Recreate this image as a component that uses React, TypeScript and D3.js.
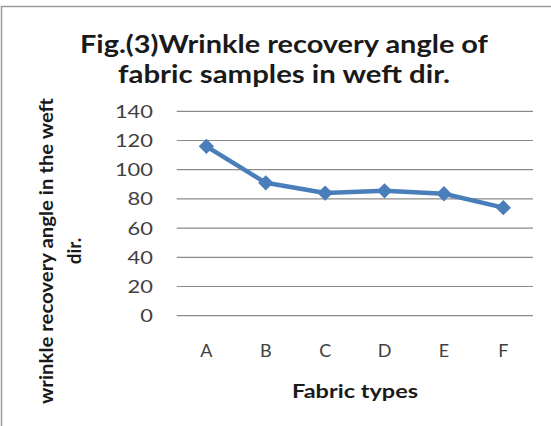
import React from "react";
import * as d3 from "d3";

const categories = ["A", "B", "C", "D", "E", "F"];
const values = [116, 91, 84, 85.5, 83.5, 74];
const yTicks = [0, 20, 40, 60, 80, 100, 120, 140];
const titleLines = ["Fig.(3)Wrinkle recovery angle of", "fabric samples  in weft dir."];
const yTitleLines = ["wrinkle recovery angle in the weft", "dir."];
const xTitle = "Fabric types";

const W = 551;
const H = 426;
const FONT = "Lato, 'Open Sans', sans-serif";

export default function App() {
  const x = d3.scaleBand<string>().domain(categories).range([176.7, 533]);
  const y = d3.scaleLinear().domain([0, 140]).range([315.7, 111.3]);
  const cx = (i: number) => (x(categories[i]) as number) + x.bandwidth() / 2;
  const line = d3
    .line<number>()
    .x((_, i) => cx(i))
    .y((d) => y(d));
  const diamond = d3.symbol().type(d3.symbolDiamond2).size(150)();
  const titleLens = [408, 332];
  const yTitleLens = [306, 0];

  return (
    <svg
      width={W}
      height={H}
      style={{ position: "absolute", left: 0, top: 0, background: "#fff" }}
    >
      <rect x={1.5} y={6.5} width={W + 10} height={H + 10} fill="#fff" stroke="#9a9a9a" strokeWidth={1.5} />
      {titleLines.map((t, i) => (
        <text
          key={i}
          x={284}
          y={53 + i * 30}
          textAnchor="middle"
          fontFamily={FONT}
          fontWeight="bold"
          fontSize={25}
          fill="#1a1a1a"
          textLength={titleLens[i]}
          lengthAdjust="spacingAndGlyphs"
        >
          {t}
        </text>
      ))}
      {yTicks.map((t) => (
        <g key={t}>
          <line x1={x.range()[0]} x2={x.range()[1]} y1={y(t)} y2={y(t)} stroke="#8c8c8c" strokeWidth={1.2} />
          <text
            x={153}
            y={y(t)}
            dy="0.36em"
            textAnchor="end"
            fontFamily={FONT}
            fontSize={18}
            fill="#404040"
            textLength={String(t).length * 12.7}
            lengthAdjust="spacingAndGlyphs"
          >
            {t}
          </text>
        </g>
      ))}
      {categories.map((c, i) => (
        <text
          key={c}
          x={cx(i)}
          y={357}
          textAnchor="middle"
          fontFamily={FONT}
          fontSize={18}
          fill="#404040"
        >
          {c}
        </text>
      ))}
      <text
        x={355}
        y={398}
        textAnchor="middle"
        fontFamily={FONT}
        fontWeight="bold"
        fontSize={19}
        fill="#1a1a1a"
        textLength={126}
        lengthAdjust="spacingAndGlyphs"
      >
        {xTitle}
      </text>
      {yTitleLines.map((t, i) => (
        <text
          key={i}
          transform={`translate(${53 + i * 28},251) rotate(-90)`}
          textAnchor="middle"
          fontFamily={FONT}
          fontWeight="bold"
          fontSize={19}
          fill="#1a1a1a"
          textLength={yTitleLens[i] || undefined}
          lengthAdjust="spacingAndGlyphs"
        >
          {t}
        </text>
      ))}
      <path d={line(values) || ""} fill="none" stroke="#4a7ebb" strokeWidth={4.5} strokeLinejoin="round" />
      {values.map((v, i) => (
        <path key={i} d={diamond || ""} transform={`translate(${cx(i)},${y(v)})`} fill="#4a7ebb" />
      ))}
    </svg>
  );
}
